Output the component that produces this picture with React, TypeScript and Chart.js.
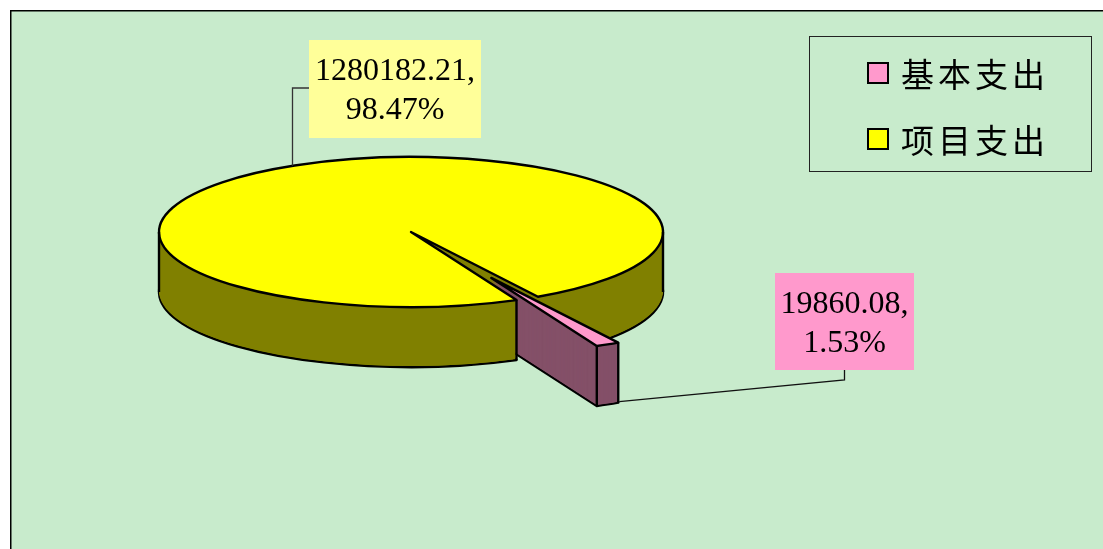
import React, { useEffect, useRef } from 'react';
import { Chart, registerables } from 'chart.js';

Chart.register(...registerables);

// ---- data ----
const categories = ['基本支出', '项目支出'];
const values = [19860.08, 1280182.21];
const valueLabels = ['19860.08,', '1280182.21,'];
const percentLabels = ['1.53%', '98.47%'];

// ---- styles ----
const topColors = ['#FF99CC', '#FFFF00'];
const sideColors = ['#845068', '#808000'];
const labelBoxColors = ['#FF99CC', '#FFFF99'];
const legendColors = ['#FF99CC', '#FFFF00'];
const BG = '#C8EBCC';

const W = 1103;
const H = 549;
// projected ellipse of the pie top
const CX = 411;
const CY = 232;
const RX = 252;
const RY = 75;
const DEPTH = 60;
const EXPLODE = [0.69, 0];
const ROTATION = 149.75;
const EDGE = 2.4;

function sliceGeom(el: any, i: number) {
  const R0 = el.outerRadius;
  const mid = (el.startAngle + el.endAngle) / 2;
  const ox = Math.cos(mid) * EXPLODE[i] * R0;
  const oy = Math.sin(mid) * EXPLODE[i] * R0;
  const toScreen = (a: number, d: number) => ({
    x: CX + (ox + Math.cos(a) * R0) * (RX / R0),
    y: CY + d + (oy + Math.sin(a) * R0) * (RY / R0),
  });
  return { R0, mid, ox, oy, toScreen };
}

const pie3d = {
  id: 'pie3d',
  beforeDraw(chart: any) {
    const ctx = chart.ctx;
    ctx.save();
    ctx.fillStyle = '#ffffff';
    ctx.fillRect(0, 0, W, H);
    ctx.fillStyle = BG;
    ctx.fillRect(10, 10, W - 10, H - 10);
    ctx.fillStyle = '#000';
    ctx.fillRect(10, 10, W - 10, 1.5);
    ctx.fillRect(10, 10, 1.5, H - 10);
    ctx.restore();
  },
  beforeDatasetsDraw(chart: any) {
    const ctx = chart.ctx;
    const arcs = chart.getDatasetMeta(0).data;
    const base = ctx.getTransform();
    const origStroke = ctx.stroke;
    ctx.stroke = function (...a: any[]) {
      this.save();
      this.setTransform(base);
      origStroke.apply(this, a);
      this.restore();
    };
    const drawLayer = (d: number, fillColors: string[], bw: number) => {
      for (const i of [1, 0]) {
        const el = arcs[i];
        const g = sliceGeom(el, i);
        ctx.save();
        ctx.setTransform(base);
        ctx.translate(CX, CY + d);
        ctx.scale(RX / g.R0, RY / g.R0);
        ctx.translate(-el.x + g.ox, -el.y + g.oy);
        const saved = el.options;
        el.options = { ...saved, backgroundColor: fillColors[i], borderColor: '#000', borderWidth: bw, borderJoinStyle: 'round' };
        el.draw(ctx);
        el.options = saved;
        ctx.restore();
      }
    };
    drawLayer(DEPTH, sideColors, EDGE);
    for (let d = DEPTH - 1; d >= 1; d--) drawLayer(d, sideColors, 0);
    drawLayer(0, topColors, EDGE);
    delete ctx.stroke;

    // vertical edges of the extruded bodies
    ctx.save();
    ctx.setTransform(base);
    ctx.strokeStyle = '#000';
    ctx.lineWidth = EDGE;
    const vline = (p: { x: number; y: number }) => {
      ctx.beginPath();
      ctx.moveTo(p.x, p.y);
      ctx.lineTo(p.x, p.y + DEPTH);
      ctx.stroke();
    };
    const gy = sliceGeom(arcs[1], 1);
    vline({ x: CX - RX, y: CY });
    vline({ x: CX + RX, y: CY });
    vline(gy.toScreen(arcs[1].startAngle, 0));
    const gp = sliceGeom(arcs[0], 0);
    vline(gp.toScreen(arcs[0].startAngle, 0));
    vline(gp.toScreen(arcs[0].endAngle, 0));
    ctx.restore();
    return false;
  },
  afterDraw(chart: any) {
    const ctx = chart.ctx;
    const arcs = chart.getDatasetMeta(0).data;
    ctx.save();

    // data labels
    const boxes = [
      { x: 775, y: 273, w: 139, h: 97 },
      { x: 309, y: 40, w: 172, h: 98 },
    ];
    ctx.font = '32px "Liberation Serif", "Times New Roman", serif';
    ctx.textAlign = 'center';
    ctx.textBaseline = 'alphabetic';
    for (const i of [0, 1]) {
      const b = boxes[i];
      ctx.fillStyle = labelBoxColors[i];
      ctx.fillRect(b.x, b.y, b.w, b.h);
      ctx.fillStyle = '#000';
      const cx = b.x + b.w / 2;
      ctx.fillText(valueLabels[i], cx, b.y + 40);
      ctx.fillText(percentLabels[i], cx, b.y + 79);
    }

    // leader lines
    ctx.strokeStyle = '#333';
    ctx.lineWidth = 1.3;
    const lx = 292.5;
    const rimY = CY - RY * Math.sqrt(1 - ((lx - CX) / RX) ** 2);
    ctx.beginPath();
    ctx.moveTo(boxes[1].x, 88);
    ctx.lineTo(lx, 88);
    ctx.lineTo(lx, rimY);
    ctx.stroke();

    const gp = sliceGeom(arcs[0], 0);
    const anchor = gp.toScreen(arcs[0].startAngle, DEPTH);
    const px = boxes[0].x + boxes[0].w / 2;
    ctx.strokeStyle = '#111';
    ctx.beginPath();
    ctx.moveTo(px, boxes[0].y + boxes[0].h);
    ctx.lineTo(px, boxes[0].y + boxes[0].h + 10);
    ctx.lineTo(anchor.x + 1, anchor.y - 1);
    ctx.stroke();

    // legend
    ctx.strokeStyle = '#222';
    ctx.lineWidth = 1;
    ctx.strokeRect(809.5, 36.5, 282, 135);
    const rows = [73, 139];
    ctx.font = '33px "Noto Sans CJK SC", sans-serif';
    ctx.textAlign = 'left';
    ctx.textBaseline = 'middle';
    for (let i = 0; i < categories.length; i++) {
      const y = rows[i];
      ctx.fillStyle = legendColors[i];
      ctx.fillRect(868, y - 10, 20, 20);
      ctx.strokeStyle = '#000';
      ctx.lineWidth = 2;
      ctx.strokeRect(868, y - 10, 20, 20);
      ctx.fillStyle = '#000';
      const chars = Array.from(categories[i]);
      chars.forEach((c, k) => ctx.fillText(c, 901 + k * 37, y + 1));
    }
    ctx.restore();
  },
};

export default function App() {
  const ref = useRef<HTMLCanvasElement>(null);
  useEffect(() => {
    if (!ref.current) return;
    const chart = new Chart(ref.current, {
      type: 'pie',
      data: {
        labels: categories,
        datasets: [
          {
            data: values,
            backgroundColor: topColors,
            borderColor: '#000',
            borderWidth: 2,
            hoverOffset: 0,
            hoverBorderWidth: 2,
          },
        ],
      },
      options: {
        responsive: false,
        animation: false,
        events: [],
        rotation: ROTATION,
        layout: { padding: { left: 158, right: 439, top: 20, bottom: 23 } },
        plugins: { legend: { display: false }, tooltip: { enabled: false } },
      },
      plugins: [pie3d],
    } as any);
    return () => chart.destroy();
  }, []);
  return (
    <div style={{ position: 'absolute', left: 0, top: 0, width: W, height: H }}>
      <canvas ref={ref} width={W} height={H} style={{ display: 'block' }} />
    </div>
  );
}
